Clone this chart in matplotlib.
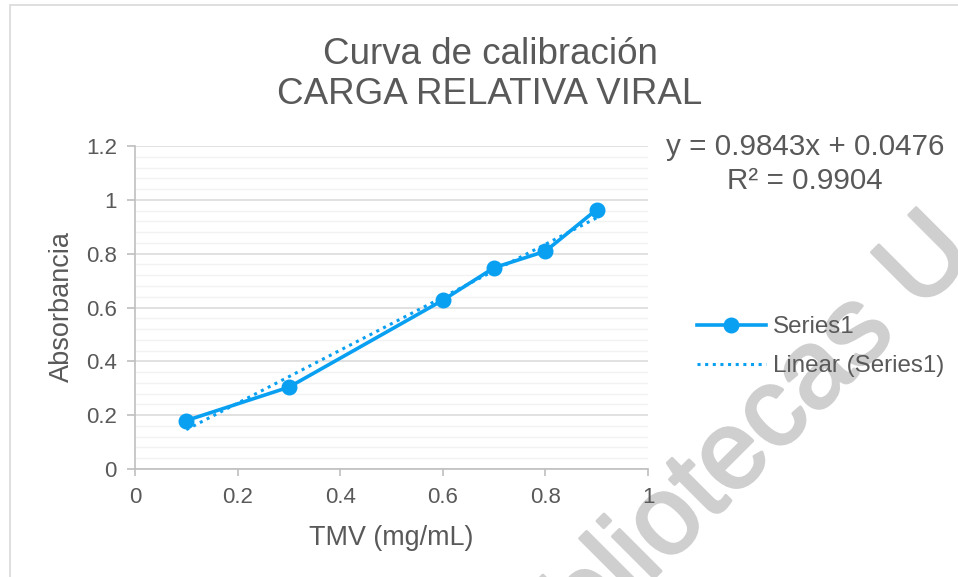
import numpy as np
import matplotlib
matplotlib.use("Agg")
import matplotlib.pyplot as plt
import matplotlib.patheffects as pe
from matplotlib.lines import Line2D
from matplotlib.patches import Rectangle

# ---- data ----
tmv = [0.1, 0.3, 0.6, 0.7, 0.8, 0.9]
absorbancia = [0.180, 0.304, 0.627, 0.748, 0.809, 0.964]
x_ticks = [0, 0.2, 0.4, 0.6, 0.8, 1.0]
x_tick_labels = ["0", "0.2", "0.4", "0.6", "0.8", "1"]
y_ticks = [0, 0.2, 0.4, 0.6, 0.8, 1.0, 1.2]
y_tick_labels = ["0", "0.2", "0.4", "0.6", "0.8", "1", "1.2"]
title_lines = ["Curva de calibración", "CARGA RELATIVA VIRAL"]
equation_lines = ["y = 0.9843x + 0.0476", "R² = 0.9904"]
series_name = "Series1"
trend_name = "Linear (Series1)"
watermark = "bliotecas U"

plt.rcParams["font.family"] = ["Liberation Sans", "DejaVu Sans"]

W, H = 958, 577
fig = plt.figure(figsize=(W / 100, H / 100), dpi=100)

def fx(px):
    return px / W

def fy(py):
    return 1 - py / H

TXT = "#595959"
BLUE = "#0AA0F2"
WM = "#cfcfcf"

# chart-area border
fig.patches.append(Rectangle((fx(10), fy(5) - 1.2), 1.2, 1.2, transform=fig.transFigure,
                             fill=False, edgecolor="#d9d9d9", lw=1.2, zorder=-5))

# watermark
fig.text(fx(782), fy(450), watermark, fontsize=80, color=WM,
         rotation=45, rotation_mode="anchor", ha="center", va="baseline", zorder=-3,
         path_effects=[pe.withStroke(linewidth=2.2, foreground=WM)])

ax = fig.add_axes([fx(135), fy(469), fx(648) - fx(135), fy(146) - fy(469)])
ax.set_facecolor("none")

ax.set_xlim(0, 1)
ax.set_ylim(0, 1.2)

# gridlines
ax.set_yticks(y_ticks)
ax.set_yticklabels(y_tick_labels)
ax.set_yticks(np.arange(0, 1.2001, 0.04), minor=True)
ax.set_xticks(x_ticks)
ax.set_xticklabels(x_tick_labels)
ax.grid(axis="y", which="major", color="#d9d9d9", lw=1.1, zorder=0)
ax.grid(axis="y", which="minor", color="#f2f2f2", lw=1.0, zorder=0)
ax.set_axisbelow(True)

for s in ["top", "right"]:
    ax.spines[s].set_visible(False)
for s in ["left", "bottom"]:
    ax.spines[s].set_color("#bfbfbf")
    ax.spines[s].set_linewidth(1.2)

ax.tick_params(axis="both", which="major", direction="out", color="#bfbfbf",
               width=1.2, labelsize=16, labelcolor=TXT)
ax.tick_params(axis="y", which="major", length=6, pad=7)
ax.tick_params(axis="x", which="major", length=5, pad=8)
ax.tick_params(axis="y", which="minor", length=0)

# series
ax.plot(tmv, absorbancia, color=BLUE, lw=2.6, marker="o", markersize=10.5,
        zorder=3, clip_on=False)

# linear trendline
coef = np.polyfit(tmv, absorbancia, 1)
xt = np.array([min(tmv), max(tmv)])
ax.plot(xt, np.polyval(coef, xt), color=BLUE, lw=2.2, linestyle=(0, (1, 1.5)),
        zorder=4)

# axis labels
ax.set_xlabel("TMV (mg/mL)", fontsize=19.4, color=TXT)
ax.xaxis.label.set_va("baseline")
ax.xaxis.set_label_coords((391 - 135) / 513, (469 - 545) / 323)
ax.set_ylabel("Absorbancia", fontsize=19.5, color=TXT)
ax.yaxis.label.set_va("center")
ax.yaxis.set_label_coords((62 - 135) / 513, (469 - 307) / 323)

# title
fig.text(fx(490), fy(64), title_lines[0], fontsize=26.5, color=TXT, ha="center", va="baseline")
fig.text(fx(490), fy(104), title_lines[1], fontsize=26.5, color=TXT, ha="center", va="baseline")

# equation
fig.text(fx(805), fy(155), equation_lines[0], fontsize=21.3, color=TXT, ha="center", va="baseline")
fig.text(fx(805), fy(189), equation_lines[1], fontsize=21.3, color=TXT, ha="center", va="baseline")

# legend
handles = [
    Line2D([], [], color=BLUE, lw=2.6, marker="o", markersize=10.5),
    Line2D([], [], color=BLUE, lw=2.2, linestyle=(0, (1, 1.5))),
]
leg = fig.legend(handles, [series_name, trend_name], loc="upper left",
                 bbox_to_anchor=(fx(697), fy(316)), frameon=False,
                 fontsize=17.4, handlelength=2.85, handletextpad=0.3,
                 labelspacing=0.72, borderpad=0, borderaxespad=0)
for t in leg.get_texts():
    t.set_color(TXT)

fig.savefig("out.png", dpi=100)
